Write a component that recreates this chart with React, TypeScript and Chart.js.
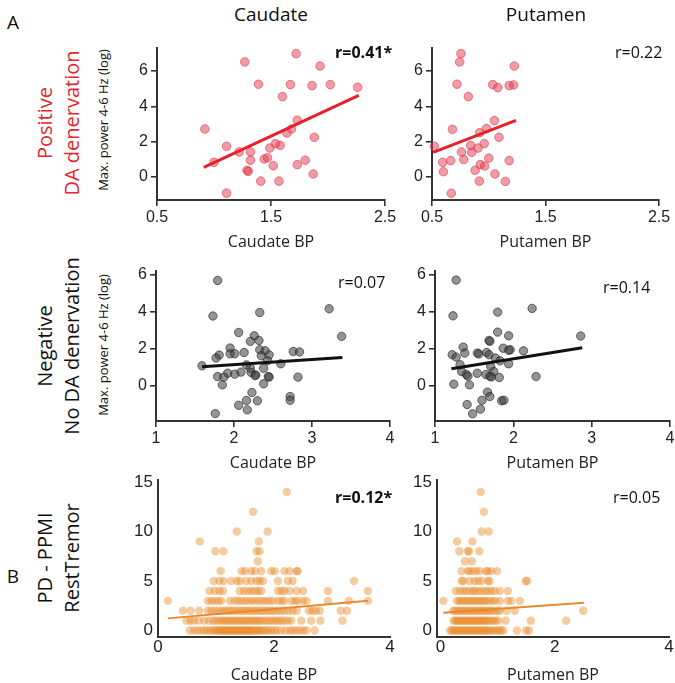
import React, { useEffect, useRef } from 'react';
import { Chart, registerables } from 'chart.js';
Chart.register(...registerables);

// ---------------- data ----------------
// Row A1: positive DA denervation
const posCaudateX = [1.72, 1.27, 1.93, 1.39, 1.67, 1.86, 2.02, 2.26, 1.6, 0.92, 1.73, 1.68, 1.64, 1.88, 1.11, 1.22, 1.32, 1.49, 1.54, 1.58, 1.0, 1.32, 1.44, 1.47, 1.52, 1.73, 1.8, 1.3, 1.29, 1.41, 1.57, 1.87, 1.11];
const posCaudateY = [6.98, 6.51, 6.28, 5.25, 5.23, 5.17, 5.23, 5.08, 4.55, 2.72, 3.21, 2.72, 2.49, 2.25, 1.74, 1.42, 1.42, 1.64, 1.89, 1.79, 0.83, 0.95, 1.02, 1.09, 0.64, 0.7, 0.95, 0.32, 0.38, -0.23, -0.23, 0.17, -0.91];
const posCaudateFitX = [0.91, 2.27];
const posCaudateFitY = [0.55, 4.62];

const posPutamenX = [0.755, 0.744, 1.225, 0.72, 1.035, 1.08, 1.18, 1.22, 0.82, 0.68, 1.05, 0.98, 0.92, 1.09, 0.52, 0.84, 0.96, 0.905, 0.76, 0.85, 0.665, 0.78, 1.0, 0.594, 0.6, 0.925, 0.964, 0.88, 1.18, 1.055, 0.917, 1.146, 0.67];
const posPutamenY = [6.98, 6.51, 6.28, 5.25, 5.23, 5.06, 5.17, 5.21, 4.55, 2.7, 3.19, 2.74, 2.51, 2.25, 1.74, 1.78, 1.89, 1.64, 1.42, 1.4, 0.93, 0.99, 1.07, 0.83, 0.3, 0.7, 0.62, 0.38, 0.93, 0.17, -0.23, -0.25, -0.92];
const posPutamenFitX = [0.51, 1.24];
const posPutamenFitY = [1.4, 3.21];

// Row A2: negative, no DA denervation
const negCaudateX = [1.79, 1.73, 2.33, 3.22, 3.38, 2.06, 2.26, 2.21, 2.32, 1.95, 1.81, 1.77, 1.95, 2.01, 2.13, 2.33, 2.4, 2.35, 2.45, 2.43, 2.76, 2.84, 1.59, 2.16, 2.21, 2.6, 2.38, 1.79, 1.92, 1.87, 2.01, 2.09, 2.22, 2.28, 2.27, 2.44, 2.45, 2.38, 2.82, 1.85, 2.23, 2.72, 2.16, 2.3, 2.06, 2.17, 1.76, 2.72];
const negCaudateY = [5.69, 3.77, 3.96, 4.16, 2.67, 2.88, 2.7, 2.4, 2.45, 2.04, 1.66, 1.5, 1.73, 1.73, 1.8, 1.95, 1.89, 1.62, 1.67, 1.36, 1.85, 1.83, 1.08, 1.13, 0.95, 1.19, 0.95, 0.5, 0.68, 0.47, 0.63, 0.74, 0.72, 0.59, 0.55, 0.5, 0.47, 0.11, 0.47, 0.05, -0.36, -0.58, -0.79, -0.81, -1.05, -1.3, -1.5, -0.78];
const negCaudateFitX = [1.59, 3.39];
const negCaudateFitY = [1.03, 1.53];

const negPutamenX = [1.27, 1.23, 1.8, 2.24, 2.86, 1.8, 1.94, 1.69, 1.7, 1.36, 1.87, 1.96, 1.94, 2.13, 1.22, 1.27, 1.38, 1.54, 1.56, 1.66, 1.69, 1.77, 1.83, 1.32, 1.94, 1.71, 1.34, 1.4, 1.42, 1.54, 1.65, 1.7, 1.75, 1.72, 1.82, 2.29, 1.24, 1.44, 1.67, 1.7, 1.6, 1.85, 1.88, 1.41, 1.48, 1.58];
const negPutamenY = [5.71, 3.78, 3.98, 4.18, 2.69, 2.9, 2.7, 2.45, 2.4, 2.09, 2.03, 1.95, 1.92, 1.89, 1.68, 1.55, 1.77, 1.77, 1.72, 1.8, 1.68, 1.5, 1.35, 1.14, 1.19, 1.05, 0.77, 0.61, 0.52, 0.68, 0.61, 0.52, 0.77, 0.48, 0.45, 0.5, 0.09, 0.05, -0.34, -0.58, -0.78, -0.81, -0.78, -1.01, -1.51, -1.26];
const negPutamenFitX = [1.21, 2.88];
const negPutamenFitY = [0.92, 2.05];

// Row B: PPMI, caudate BP values grouped by rest tremor score (index = score)
const ppmiCaudateByScore: number[][] = [
  [0.55, 0.62, 0.68, 0.74, 0.8, 0.85, 0.9, 0.95, 0.98, 1.02, 1.05, 1.08, 1.1, 1.12, 1.15, 1.18, 1.2, 1.22, 1.25, 1.28, 1.3, 1.33, 1.35, 1.38, 1.4, 1.43, 1.46, 1.48, 1.5, 1.53, 1.56, 1.58, 1.6, 1.63, 1.66, 1.69, 1.72, 1.75, 1.78, 1.82, 1.86, 1.9, 1.95, 2.0, 2.05, 2.12, 2.2, 2.27, 2.32, 2.38, 2.44, 2.5, 2.56, 2.7],
  [0.49, 0.56, 0.62, 0.7, 0.8, 0.88, 0.95, 1.0, 1.05, 1.1, 1.14, 1.18, 1.22, 1.26, 1.3, 1.34, 1.38, 1.42, 1.46, 1.5, 1.54, 1.58, 1.62, 1.66, 1.7, 1.74, 1.78, 1.83, 1.88, 1.93, 1.98, 2.03, 2.08, 2.13, 2.18, 2.24, 2.3, 2.47, 2.64, 2.8, 3.18],
  [0.43, 0.56, 0.71, 0.86, 0.92, 0.98, 1.04, 1.1, 1.15, 1.2, 1.25, 1.3, 1.35, 1.4, 1.45, 1.5, 1.55, 1.6, 1.65, 1.7, 1.75, 1.8, 1.85, 1.9, 1.95, 2.0, 2.06, 2.12, 2.18, 2.25, 2.32, 2.39, 2.6, 2.66, 2.72, 2.79, 3.15, 3.26],
  [0.17, 0.86, 0.92, 0.98, 1.04, 1.09, 1.24, 1.32, 1.38, 1.44, 1.5, 1.56, 1.62, 1.68, 1.74, 1.8, 1.86, 1.92, 1.98, 2.07, 2.13, 2.18, 2.3, 2.36, 2.41, 2.5, 2.56, 2.93, 3.29, 3.62],
  [0.89, 0.98, 1.06, 1.12, 1.41, 1.48, 1.55, 1.61, 1.67, 1.73, 1.78, 2.07, 2.13, 2.18, 2.27, 2.39, 2.5, 2.93, 3.62],
  [0.96, 1.06, 1.13, 1.26, 1.36, 1.41, 1.52, 1.61, 1.7, 1.75, 1.81, 2.07, 2.24, 2.32, 3.38],
  [1.08, 1.44, 1.5, 1.61, 1.67, 1.78, 1.95, 2.01, 2.18, 2.27, 2.39, 2.41],
  [1.72],
  [0.99, 1.13, 1.7, 1.75],
  [0.72, 1.74],
  [1.36, 1.89],
  [],
  [1.64],
  [],
  [2.22],
];
const ppmiCaudateFitX = [0.17, 3.62];
const ppmiCaudateFitY = [1.23, 3.01];

const ppmiPutamenByScore: number[][] = [
  [0.17, 0.2, 0.23, 0.26, 0.29, 0.32, 0.35, 0.38, 0.41, 0.44, 0.47, 0.5, 0.53, 0.56, 0.59, 0.62, 0.65, 0.68, 0.71, 0.74, 0.77, 0.8, 0.83, 0.86, 0.9, 0.94, 0.98, 1.02, 1.06, 1.1, 1.34, 1.5, 1.55],
  [0.23, 0.26, 0.29, 0.32, 0.35, 0.38, 0.41, 0.44, 0.47, 0.5, 0.53, 0.56, 0.59, 0.62, 0.65, 0.68, 0.71, 0.74, 0.77, 0.8, 0.84, 0.88, 0.92, 0.96, 1.01, 1.14, 1.58, 2.2],
  [0.22, 0.26, 0.3, 0.34, 0.38, 0.42, 0.46, 0.5, 0.54, 0.58, 0.62, 0.66, 0.7, 0.74, 0.78, 0.82, 0.86, 0.9, 0.95, 1.0, 1.04, 1.16, 1.3, 2.5],
  [0.05, 0.29, 0.33, 0.37, 0.41, 0.45, 0.49, 0.53, 0.57, 0.61, 0.65, 0.69, 0.73, 0.77, 0.81, 0.86, 0.91, 0.96, 1.04, 1.18, 1.24, 1.39],
  [0.27, 0.34, 0.4, 0.45, 0.51, 0.57, 0.6, 0.66, 0.72, 0.78, 0.83, 0.89, 0.95, 1.04, 1.18],
  [0.37, 0.4, 0.51, 0.6, 0.66, 0.72, 0.83, 0.86, 1.49, 1.52],
  [0.37, 0.48, 0.51, 0.57, 0.63, 0.69, 0.8, 0.83, 0.89, 0.99],
  [0.43, 0.55],
  [0.33, 0.48, 0.5, 0.68],
  [0.29, 0.56],
  [0.72, 0.845],
  [],
  [0.76],
  [],
  [0.705],
];
const ppmiPutamenFitX = [0.05, 2.51];
const ppmiPutamenFitY = [1.8, 2.81];

// tick labels
const xTicksPos = [0.5, 1.5, 2.5];
const yTicksA = [0, 2, 4, 6];
const xTicksNeg = [1, 2, 3, 4];
const xTicksPpmi = [0, 2, 4];
const yTicksPpmi = [0, 5, 10, 15];

// ---------------- helpers ----------------
const TICK_FONT = "'Liberation Sans', Arial, sans-serif";
const TEXT_FONT = "'Open Sans', 'DejaVu Sans', sans-serif";
const PAD_TOP = 14;
const PAD_RIGHT = 18;
const Y_W = 40;

const flatX = (g: number[][]) => g.flat();
const flatY = (g: number[][]) => g.flatMap((xs, s) => xs.map(() => s));

type Spec = {
  key: string;
  area: { left: number; right: number; top: number; bottom: number };
  xh: number;
  xMin: number; xMax: number; yMin: number; yMax: number;
  xTicks: number[]; yTicks: number[];
  xTitle: string;
  px: number[]; py: number[]; fx: number[]; fy: number[];
  bg: string; bc: string; bw: number; r: number;
  lc: string; lw: number;
  ticksOn: boolean; tickSize: number; xPad: number; yPad: number;
};

function Panel({ s }: { s: Spec }) {
  const ref = useRef<HTMLCanvasElement>(null);
  const cl = s.area.left - Y_W;
  const ct = s.area.top - PAD_TOP;
  const cw = s.area.right + PAD_RIGHT - cl;
  const ch = s.area.bottom + s.xh - ct;
  useEffect(() => {
    const axisColor = '#333';
    const grid = s.ticksOn
      ? { display: true, drawOnChartArea: false, drawTicks: true, tickLength: 6, color: axisColor, lineWidth: 1.6 }
      : { display: false, drawOnChartArea: false, drawTicks: false };
    const chart = new Chart(ref.current as HTMLCanvasElement, {
      type: 'scatter',
      data: {
        datasets: [
          {
            data: s.fx.map((x, i) => ({ x, y: s.fy[i] })),
            showLine: true,
            borderColor: s.lc,
            borderWidth: s.lw,
            pointRadius: 0,
            clip: false as any,
            order: 0,
          },
          {
            data: s.px.map((x, i) => ({ x, y: s.py[i] })),
            backgroundColor: s.bg,
            borderColor: s.bc,
            borderWidth: s.bw,
            pointRadius: s.r,
            clip: false as any,
            order: 1,
          },
        ],
      },
      options: {
        animation: false,
        responsive: false,
        maintainAspectRatio: false,
        events: [],
        layout: { padding: { top: PAD_TOP, right: PAD_RIGHT, left: 0, bottom: 0 } },
        plugins: { legend: { display: false }, tooltip: { enabled: false } },
        scales: {
          x: {
            type: 'linear',
            position: 'bottom',
            min: s.xMin,
            max: s.xMax,
            afterBuildTicks: (sc: any) => { sc.ticks = s.xTicks.map((v) => ({ value: v })); },
            afterFit: (sc: any) => { sc.height = s.xh; sc.paddingLeft = 0; sc.paddingRight = 0; },
            ticks: { font: { family: TICK_FONT, size: s.tickSize }, color: '#222', padding: s.xPad, maxRotation: 0, autoSkip: false, callback: (v: any) => String(v) },
            grid: grid as any,
            border: { display: true, color: axisColor, width: 2 },
            title: { display: true, text: s.xTitle, font: { family: TEXT_FONT, size: 16 }, color: '#222', padding: 0 },
          },
          y: {
            type: 'linear',
            min: s.yMin,
            max: s.yMax,
            afterBuildTicks: (sc: any) => { sc.ticks = s.yTicks.map((v) => ({ value: v })); },
            afterFit: (sc: any) => { sc.width = Y_W; sc.paddingTop = 0; sc.paddingBottom = 0; },
            ticks: { font: { family: TICK_FONT, size: s.tickSize }, color: '#222', padding: s.yPad, autoSkip: false, callback: (v: any) => String(v) },
            grid: grid as any,
            border: { display: true, color: axisColor, width: 2 },
          },
        },
      },
    });
    return () => chart.destroy();
  }, [s]);
  return (
    <canvas
      ref={ref}
      width={cw}
      height={ch}
      style={{ position: 'absolute', left: cl, top: ct, width: cw, height: ch }}
    />
  );
}

const RED_PT = 'rgba(228, 55, 75, 0.5)';
const RED_BD = 'rgba(215, 50, 70, 0.55)';
const GRAY_PT = 'rgba(60, 60, 60, 0.55)';
const GRAY_BD = 'rgba(30, 30, 30, 0.6)';
const OR_PT = 'rgba(232, 140, 45, 0.45)';

const specs: Spec[] = [
  {
    key: 'p1', area: { left: 157, right: 385, top: 47.5, bottom: 199.5 }, xh: 52,
    xMin: 0.5, xMax: 2.5, yMin: -1.3, yMax: 7.3, xTicks: xTicksPos, yTicks: yTicksA, xTitle: 'Caudate BP',
    px: posCaudateX, py: posCaudateY, fx: posCaudateFitX, fy: posCaudateFitY,
    bg: RED_PT, bc: RED_BD, bw: 1, r: 4.3, lc: '#e62129', lw: 3, ticksOn: true, tickSize: 16, xPad: 2, yPad: 3,
  },
  {
    key: 'p2', area: { left: 432, right: 659, top: 47.5, bottom: 199.5 }, xh: 52,
    xMin: 0.5, xMax: 2.5, yMin: -1.3, yMax: 7.3, xTicks: xTicksPos, yTicks: yTicksA, xTitle: 'Putamen BP',
    px: posPutamenX, py: posPutamenY, fx: posPutamenFitX, fy: posPutamenFitY,
    bg: RED_PT, bc: RED_BD, bw: 1, r: 4.3, lc: '#e62129', lw: 3, ticksOn: true, tickSize: 16, xPad: 2, yPad: 3,
  },
  {
    key: 'p3', area: { left: 156, right: 390, top: 271, bottom: 421 }, xh: 52,
    xMin: 1, xMax: 4, yMin: -1.9, yMax: 6.2, xTicks: xTicksNeg, yTicks: yTicksA, xTitle: 'Caudate BP',
    px: negCaudateX, py: negCaudateY, fx: negCaudateFitX, fy: negCaudateFitY,
    bg: GRAY_PT, bc: GRAY_BD, bw: 1, r: 4.2, lc: '#111', lw: 3, ticksOn: true, tickSize: 16, xPad: 2, yPad: 3,
  },
  {
    key: 'p4', area: { left: 435, right: 670, top: 271, bottom: 421 }, xh: 52,
    xMin: 1, xMax: 4, yMin: -1.9, yMax: 6.2, xTicks: xTicksNeg, yTicks: yTicksA, xTitle: 'Putamen BP',
    px: negPutamenX, py: negPutamenY, fx: negPutamenFitX, fy: negPutamenFitY,
    bg: GRAY_PT, bc: GRAY_BD, bw: 1, r: 4.2, lc: '#111', lw: 3, ticksOn: true, tickSize: 16, xPad: 2, yPad: 3,
  },
  {
    key: 'p5', area: { left: 158, right: 390, top: 480, bottom: 637 }, xh: 48,
    xMin: 0, xMax: 4, yMin: -0.65, yMax: 15.2, xTicks: xTicksPpmi, yTicks: yTicksPpmi, xTitle: 'Caudate BP',
    px: flatX(ppmiCaudateByScore), py: flatY(ppmiCaudateByScore), fx: ppmiCaudateFitX, fy: ppmiCaudateFitY,
    bg: OR_PT, bc: 'rgba(0,0,0,0)', bw: 0, r: 4.2, lc: '#e8892f', lw: 2, ticksOn: false, tickSize: 17, xPad: 0, yPad: 5,
  },
  {
    key: 'p6', area: { left: 437, right: 669, top: 480, bottom: 637 }, xh: 48,
    xMin: -0.06, xMax: 4, yMin: -0.65, yMax: 15.2, xTicks: xTicksPpmi, yTicks: yTicksPpmi, xTitle: 'Putamen BP',
    px: flatX(ppmiPutamenByScore), py: flatY(ppmiPutamenByScore), fx: ppmiPutamenFitX, fy: ppmiPutamenFitY,
    bg: OR_PT, bc: 'rgba(0,0,0,0)', bw: 0, r: 4.2, lc: '#e8892f', lw: 2, ticksOn: false, tickSize: 17, xPad: 0, yPad: 5,
  },
];

function Txt({ x, y, text, size, bold, color, rotate, anchor, lh }: any) {
  const tx = anchor === 'left' ? '0' : '-50%';
  return (
    <div
      style={{
        position: 'absolute', left: x, top: y,
        transform: `translate(${tx}, -50%)${rotate ? ' rotate(-90deg)' : ''}`,
        transformOrigin: anchor === 'left' ? 'left center' : 'center center',
        fontFamily: TEXT_FONT, fontSize: size, fontWeight: bold ? 700 : 400,
        color: color || '#111', whiteSpace: 'pre', textAlign: 'center', lineHeight: lh ? `${lh}px` : 1.2,
      }}
    >
      {text}
    </div>
  );
}

export default function App() {
  return (
    <div style={{ position: 'absolute', left: 0, top: 0, width: 675, height: 683, overflow: 'hidden', background: '#fff' }}>
      {specs.map((s) => <Panel key={s.key} s={s} />)}
      <Txt x={271} y={14} text="Caudate" size={19} />
      <Txt x={546} y={14} text="Putamen" size={19} />
      <Txt x={13} y={22} text="A" size={19} />
      <Txt x={13} y={576} text="B" size={19} />
      <Txt x={58} y={123} text={'Positive\nDA denervation'} size={20} lh={27} color="#e4262e" rotate />
      <Txt x={58} y={346} text={'Negative\nNo DA denervation'} size={20} lh={27} rotate />
      <Txt x={58} y={558} text={'PD - PPMI\nRestTremor'} size={20} lh={27} rotate />
      <Txt x={104} y={120} text="Max. power 4-6 Hz (log)" size={13} rotate />
      <Txt x={104} y={345} text="Max. power 4-6 Hz (log)" size={13} rotate />
      <Txt x={335} y={53} text="r=0.41*" size={16} bold anchor="left" />
      <Txt x={615} y={53} text="r=0.22" size={16} anchor="left" />
      <Txt x={338} y={283} text="r=0.07" size={16} anchor="left" />
      <Txt x={603} y={288} text="r=0.14" size={16} anchor="left" />
      <Txt x={335} y={498} text="r=0.12*" size={16} bold anchor="left" />
      <Txt x={613} y={498} text="r=0.05" size={16} anchor="left" />
    </div>
  );
}
